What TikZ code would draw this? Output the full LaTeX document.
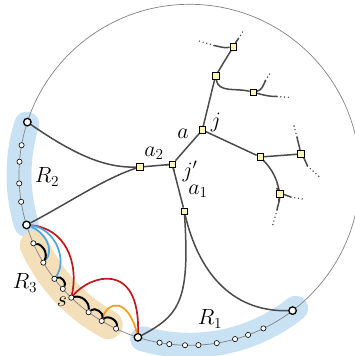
\documentclass[tikz,border=0pt]{standalone}
\usepackage{fix-cm}
\usetikzlibrary{calc}
\pgfdeclarelayer{bg}
\pgfsetlayers{bg,main}
\definecolor{bandblue}{RGB}{200,226,244}
\definecolor{bandtan}{RGB}{243,223,186}
\definecolor{redarc}{RGB}{190,25,30}
\definecolor{orangearc}{RGB}{240,160,20}
\definecolor{bluearc}{RGB}{80,165,225}
\definecolor{edgecol}{RGB}{75,75,75}
\definecolor{circcol}{RGB}{130,130,130}
\definecolor{sqfill}{RGB}{255,245,180}
\newcommand{\mylab}[1]{\scalebox{1.27}{$#1$}}
\begin{document}
\begin{tikzpicture}[x=1pt,y=-1pt,
  bigv/.style={circle,draw=black,fill=white,line width=1.3pt,inner sep=0pt,minimum size=7.5pt},
  dotv/.style={circle,draw=black,fill=white,line width=0.6pt,inner sep=0pt,minimum size=5.2pt},
  sq/.style={rectangle,draw=black,fill=sqfill,line width=0.5pt,inner sep=0pt,minimum size=6.8pt},
  tedge/.style={draw=edgecol,line width=1.5pt},
  dotext/.style={draw=edgecol,line width=1.6pt,line cap=round,dash pattern=on 0pt off 3.8pt},
  bandstroke/.style={line width=#1,line cap=round},
  bump/.style={draw=black,line width=2pt},
  colarc/.style={line width=1.7pt},
  lab/.style={inner sep=0pt,font=\fontsize{17.28}{20}\selectfont}
]
\useasboundingbox (0,0) rectangle (355,356);
\def\crad{170.5pt}
\coordinate (O) at (189.5,174.8);

% vertices on the circle
\node[bigv] (R2t) at ($(O)+(162:\crad)$) {};
\node[bigv] (R2b) at ($(O)+(197.1:\crad)$) {};
\node[bigv] (R1l) at ($(O)+(252.4:\crad)$) {};
\node[bigv] (R1r) at ($(O)+(307.2:\crad)$) {};
\foreach \ang/\nm in {170/p1,175.6/p2,182.9/p3,189.1/p4,
  203.7/d1,211/d2,217.6/d3,222/d4,226.1/s,233.7/d6,239/d7,244.5/d8,
  259.9/q1,263.2/q2,268.5/q3,273/q4,279.2/q5,285.5/q6,290.1/q7,295.7/q8}
  \node[dotv] (\nm) at ($(O)+(\ang:\crad)$) {};

% tree nodes
\node[sq] (a2) at (140,167) {};
\node[sq] (jp) at (172.3,164.3) {};
\node[sq] (a1) at (184.3,211.3) {};
\node[sq] (ja) at (202.3,130) {};
\node[sq] (up) at (215.5,76) {};
\node[sq] (top) at (233.3,46.7) {};
\node[sq] (ur) at (253.3,92.3) {};
\node[sq] (rt) at (260.3,157) {};
\node[sq] (fr) at (300.7,154) {};
\node[sq] (lr) at (280,194) {};

% free ends of the tree
\coordinate (tl1) at (214,45.5); \coordinate (tl2) at (199,41);
\coordinate (tu1) at (238.5,38.5); \coordinate (tu2) at (244.5,29);
\coordinate (uu1) at (265.5,80.5); \coordinate (uu2) at (270.5,72.5);
\coordinate (ur1) at (277,96.5); \coordinate (ur2) at (291,97.5);
\coordinate (fu1) at (297,137); \coordinate (fu2) at (293,122.5);
\coordinate (fd1) at (307.5,166); \coordinate (fd2) at (319,176.5);
\coordinate (lr1) at (291,197); \coordinate (lr2) at (305.5,199.5);
\coordinate (lr3) at (277,210); \coordinate (lr4) at (272.5,226);

% labels
\node[lab] (lR2) at (47,177) {\mylab{R_2}};
\node[lab] (lR3) at (25,283) {\mylab{R_3}};
\node[lab] (lR1) at (210,319) {\mylab{R_1}};
\node[lab] (ls) at (62,302) {\mylab{s}};
\node[lab] (la2) at (154,153) {\mylab{a_2}};
\node[lab] (la) at (183,134) {\mylab{a}};
\node[lab] (lj) at (216,122) {\mylab{j}};
\node[lab] (ljp) at (190,171) {\mylab{j'}};
\node[lab] (la1) at (198,191.5) {\mylab{a_1}};

\begin{pgfonlayer}{bg}
\draw[bandblue,bandstroke=25pt] ($(O)+(162.7:\crad)$) arc[start angle=162.7,end angle=196.9,radius=\crad];
\draw[bandblue,bandstroke=25pt] ($(O)+(254:\crad)$) arc[start angle=254,end angle=308.5,radius=\crad];
\draw[bandtan,bandstroke=29pt] ($(O)+(204.5:\crad)$) arc[start angle=204.5,end angle=241.5,radius=\crad];
\draw[circcol,line width=0.7pt] (O) circle[radius=\crad];

% tree edges
\draw[tedge] (R2t) .. controls (75,155) and (105,168) .. (a2);
\draw[tedge] (R2b) .. controls (65,205) and (105,178) .. (a2);
\draw[tedge] (a2) -- (jp);
\draw[tedge] (jp) -- (ja);
\draw[tedge] (jp) -- (a1);
\coordinate (fj1) at ($(jp.center)!7pt!(a2.center)$);
\coordinate (fj2) at ($(jp.center)!7pt!(a1.center)$);
\draw[tedge] (fj1) .. controls (jp.center) .. (fj2);
\draw[tedge] (a1) .. controls (190,300) and (180,315) .. (R1l);
\draw[tedge] (a1) .. controls (198,270) and (230,312) .. (R1r);
\draw[tedge] (ja) -- (up);
\draw[tedge] (up) -- (top);
\draw[tedge] (up) to[out=-80,in=165] (ur);
\draw[tedge] (ja) -- (rt);
\draw[tedge] (rt) -- (fr);
\draw[tedge] (rt) to[bend left=15] (lr);
% branches
\draw[tedge] (top) to[out=190,in=-10] (tl1); \draw[dotext] (tl1) -- (tl2);
\draw[tedge] (top) to[out=60,in=240] (tu1); \draw[dotext] (tu1) -- (tu2);
\draw[tedge] (ur) to[out=15,in=245] (uu1); \draw[dotext] (uu1) -- (uu2);
\draw[tedge] (ur) to[out=-15,in=180] (ur1); \draw[dotext] (ur1) -- (ur2);
\draw[tedge] (fr) to[out=100,in=-80] (fu1); \draw[dotext] (fu1) -- (fu2);
\draw[tedge] (fr) to[out=-50,in=130] (fd1); \draw[dotext] (fd1) -- (fd2);
\draw[tedge] (lr) to[out=-5,in=180] (lr1); \draw[dotext] (lr1) -- (lr2);
\draw[tedge] (lr) to[out=-95,in=80] (lr3); \draw[dotext] (lr3) -- (lr4);
\coordinate (fl0) at ($(lr.center)!7pt!(rt.center)$);
\coordinate (fl3) at ($(lr.center)!7pt!(lr3)$);
\draw[tedge] (fl0) .. controls (lr.center) .. (fl3);

% coloured arcs
\draw[colarc,redarc] (R2b) .. controls (65,228) and (79,262) .. (s);
\draw[colarc,redarc] (s) .. controls (90,275) and (140,260) .. (R1l);
\draw[colarc,orangearc] (d7) .. controls (108,300) and (128,298) .. (R1l);
\draw[colarc,bluearc] (R2b) .. controls (45,232) and (55,250) .. (d2);
\draw[colarc,bluearc] (R2b) .. controls (55,228) and (68,260) .. (d3);
% black bumps
\draw[bump] (d1) to[bend left=55] (d2);
\draw[bump] (d3) to[bend left=75] (d4);
\draw[bump] (s) to[bend left=55] (d6);
\draw[bump] (d6) to[bend left=75] (d7);
\draw[bump] (d7) to[bend left=75] (d8);
\end{pgfonlayer}
\end{tikzpicture}
\end{document}
